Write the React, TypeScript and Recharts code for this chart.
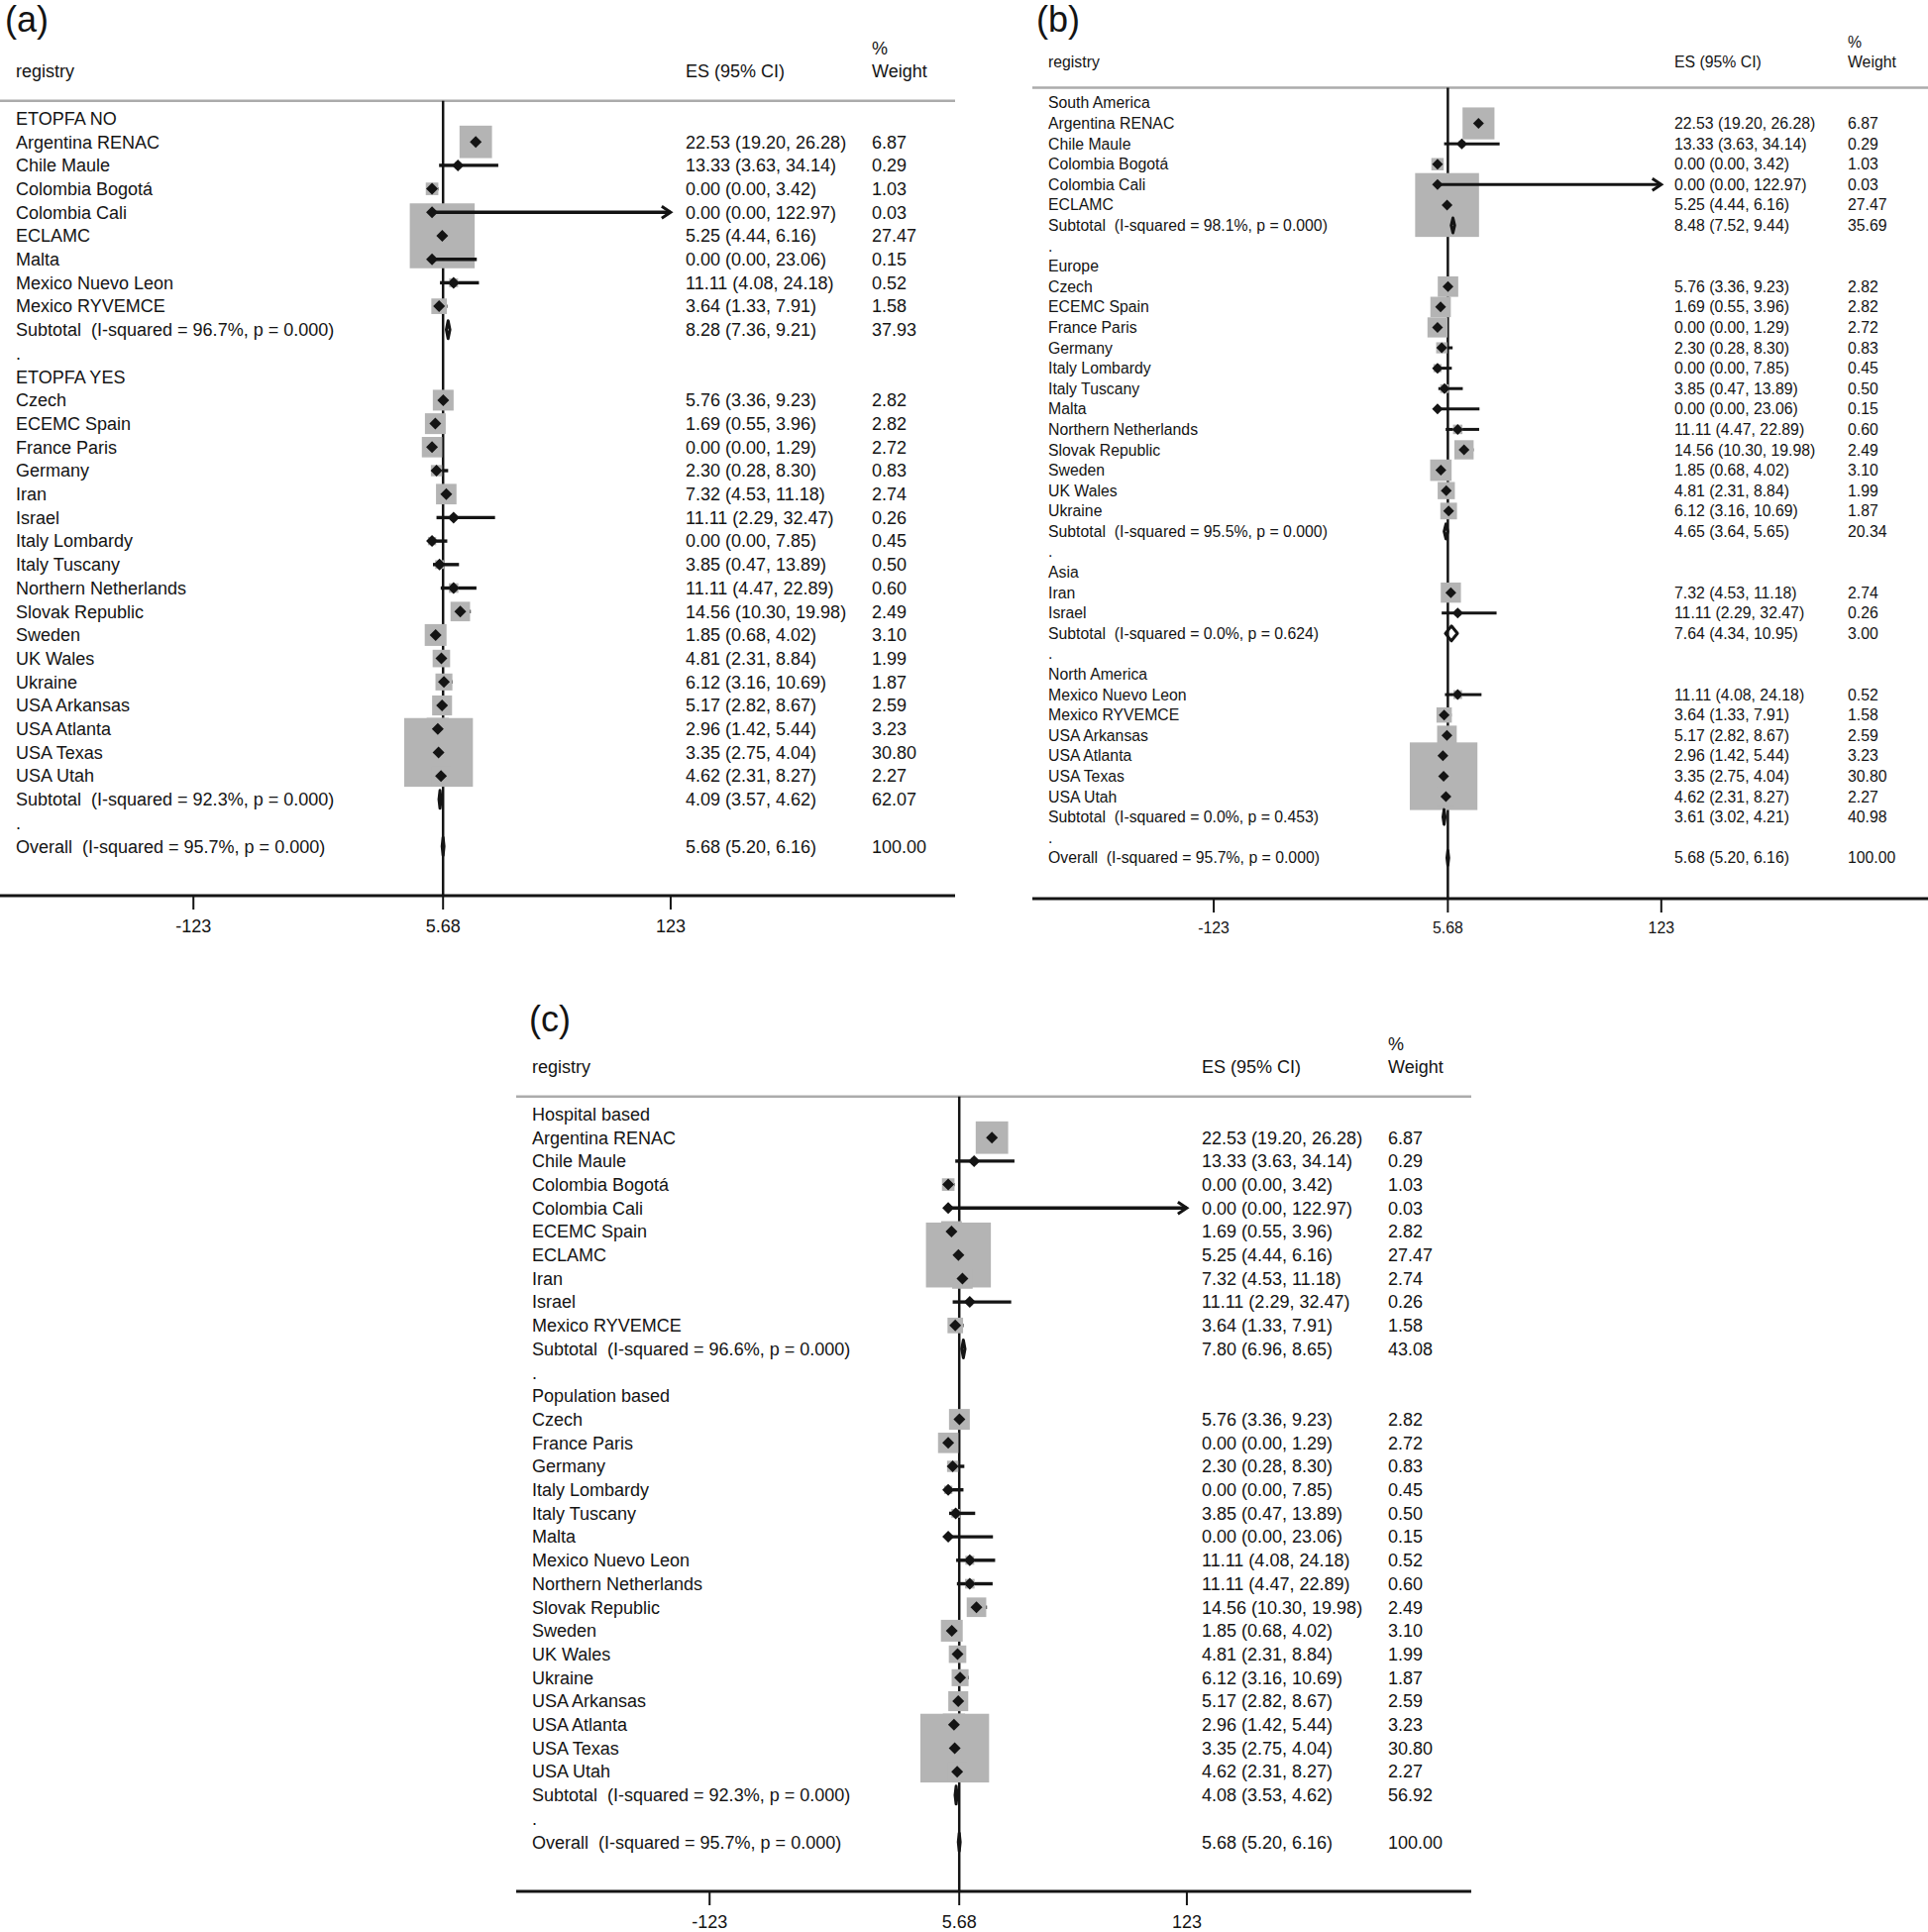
import React from 'react';
import { ReferenceLine, Scatter, ScatterChart, XAxis, YAxis } from 'recharts';

// [label, ES, lower, upper, % weight] – headings and "." rows carry only a label
type Entry = [string, number?, number?, number?, number?];

const rowsA: Entry[] = [
  ['ETOPFA NO'],
  ['Argentina RENAC', 22.53, 19.2, 26.28, 6.87],
  ['Chile Maule', 13.33, 3.63, 34.14, 0.29],
  ['Colombia Bogotá', 0.0, 0.0, 3.42, 1.03],
  ['Colombia Cali', 0.0, 0.0, 122.97, 0.03],
  ['ECLAMC', 5.25, 4.44, 6.16, 27.47],
  ['Malta', 0.0, 0.0, 23.06, 0.15],
  ['Mexico Nuevo Leon', 11.11, 4.08, 24.18, 0.52],
  ['Mexico RYVEMCE', 3.64, 1.33, 7.91, 1.58],
  ['Subtotal  (I-squared = 96.7%, p = 0.000)', 8.28, 7.36, 9.21, 37.93],
  ['.'],
  ['ETOPFA YES'],
  ['Czech', 5.76, 3.36, 9.23, 2.82],
  ['ECEMC Spain', 1.69, 0.55, 3.96, 2.82],
  ['France Paris', 0.0, 0.0, 1.29, 2.72],
  ['Germany', 2.3, 0.28, 8.3, 0.83],
  ['Iran', 7.32, 4.53, 11.18, 2.74],
  ['Israel', 11.11, 2.29, 32.47, 0.26],
  ['Italy Lombardy', 0.0, 0.0, 7.85, 0.45],
  ['Italy Tuscany', 3.85, 0.47, 13.89, 0.5],
  ['Northern Netherlands', 11.11, 4.47, 22.89, 0.6],
  ['Slovak Republic', 14.56, 10.3, 19.98, 2.49],
  ['Sweden', 1.85, 0.68, 4.02, 3.1],
  ['UK Wales', 4.81, 2.31, 8.84, 1.99],
  ['Ukraine', 6.12, 3.16, 10.69, 1.87],
  ['USA Arkansas', 5.17, 2.82, 8.67, 2.59],
  ['USA Atlanta', 2.96, 1.42, 5.44, 3.23],
  ['USA Texas', 3.35, 2.75, 4.04, 30.8],
  ['USA Utah', 4.62, 2.31, 8.27, 2.27],
  ['Subtotal  (I-squared = 92.3%, p = 0.000)', 4.09, 3.57, 4.62, 62.07],
  ['.'],
  ['Overall  (I-squared = 95.7%, p = 0.000)', 5.68, 5.2, 6.16, 100.0],
];

const rowsB: Entry[] = [
  ['South America'],
  ['Argentina RENAC', 22.53, 19.2, 26.28, 6.87],
  ['Chile Maule', 13.33, 3.63, 34.14, 0.29],
  ['Colombia Bogotá', 0.0, 0.0, 3.42, 1.03],
  ['Colombia Cali', 0.0, 0.0, 122.97, 0.03],
  ['ECLAMC', 5.25, 4.44, 6.16, 27.47],
  ['Subtotal  (I-squared = 98.1%, p = 0.000)', 8.48, 7.52, 9.44, 35.69],
  ['.'],
  ['Europe'],
  ['Czech', 5.76, 3.36, 9.23, 2.82],
  ['ECEMC Spain', 1.69, 0.55, 3.96, 2.82],
  ['France Paris', 0.0, 0.0, 1.29, 2.72],
  ['Germany', 2.3, 0.28, 8.3, 0.83],
  ['Italy Lombardy', 0.0, 0.0, 7.85, 0.45],
  ['Italy Tuscany', 3.85, 0.47, 13.89, 0.5],
  ['Malta', 0.0, 0.0, 23.06, 0.15],
  ['Northern Netherlands', 11.11, 4.47, 22.89, 0.6],
  ['Slovak Republic', 14.56, 10.3, 19.98, 2.49],
  ['Sweden', 1.85, 0.68, 4.02, 3.1],
  ['UK Wales', 4.81, 2.31, 8.84, 1.99],
  ['Ukraine', 6.12, 3.16, 10.69, 1.87],
  ['Subtotal  (I-squared = 95.5%, p = 0.000)', 4.65, 3.64, 5.65, 20.34],
  ['.'],
  ['Asia'],
  ['Iran', 7.32, 4.53, 11.18, 2.74],
  ['Israel', 11.11, 2.29, 32.47, 0.26],
  ['Subtotal  (I-squared = 0.0%, p = 0.624)', 7.64, 4.34, 10.95, 3.0],
  ['.'],
  ['North America'],
  ['Mexico Nuevo Leon', 11.11, 4.08, 24.18, 0.52],
  ['Mexico RYVEMCE', 3.64, 1.33, 7.91, 1.58],
  ['USA Arkansas', 5.17, 2.82, 8.67, 2.59],
  ['USA Atlanta', 2.96, 1.42, 5.44, 3.23],
  ['USA Texas', 3.35, 2.75, 4.04, 30.8],
  ['USA Utah', 4.62, 2.31, 8.27, 2.27],
  ['Subtotal  (I-squared = 0.0%, p = 0.453)', 3.61, 3.02, 4.21, 40.98],
  ['.'],
  ['Overall  (I-squared = 95.7%, p = 0.000)', 5.68, 5.2, 6.16, 100.0],
];

const rowsC: Entry[] = [
  ['Hospital based'],
  ['Argentina RENAC', 22.53, 19.2, 26.28, 6.87],
  ['Chile Maule', 13.33, 3.63, 34.14, 0.29],
  ['Colombia Bogotá', 0.0, 0.0, 3.42, 1.03],
  ['Colombia Cali', 0.0, 0.0, 122.97, 0.03],
  ['ECEMC Spain', 1.69, 0.55, 3.96, 2.82],
  ['ECLAMC', 5.25, 4.44, 6.16, 27.47],
  ['Iran', 7.32, 4.53, 11.18, 2.74],
  ['Israel', 11.11, 2.29, 32.47, 0.26],
  ['Mexico RYVEMCE', 3.64, 1.33, 7.91, 1.58],
  ['Subtotal  (I-squared = 96.6%, p = 0.000)', 7.8, 6.96, 8.65, 43.08],
  ['.'],
  ['Population based'],
  ['Czech', 5.76, 3.36, 9.23, 2.82],
  ['France Paris', 0.0, 0.0, 1.29, 2.72],
  ['Germany', 2.3, 0.28, 8.3, 0.83],
  ['Italy Lombardy', 0.0, 0.0, 7.85, 0.45],
  ['Italy Tuscany', 3.85, 0.47, 13.89, 0.5],
  ['Malta', 0.0, 0.0, 23.06, 0.15],
  ['Mexico Nuevo Leon', 11.11, 4.08, 24.18, 0.52],
  ['Northern Netherlands', 11.11, 4.47, 22.89, 0.6],
  ['Slovak Republic', 14.56, 10.3, 19.98, 2.49],
  ['Sweden', 1.85, 0.68, 4.02, 3.1],
  ['UK Wales', 4.81, 2.31, 8.84, 1.99],
  ['Ukraine', 6.12, 3.16, 10.69, 1.87],
  ['USA Arkansas', 5.17, 2.82, 8.67, 2.59],
  ['USA Atlanta', 2.96, 1.42, 5.44, 3.23],
  ['USA Texas', 3.35, 2.75, 4.04, 30.8],
  ['USA Utah', 4.62, 2.31, 8.27, 2.27],
  ['Subtotal  (I-squared = 92.3%, p = 0.000)', 4.08, 3.53, 4.62, 56.92],
  ['.'],
  ['Overall  (I-squared = 95.7%, p = 0.000)', 5.68, 5.2, 6.16, 100.0],
];

const X_DOMAIN = [-222.7, 269.6];
const X_TICKS = [-123, 5.68, 123];
const HEAD_NAME = 'registry';
const HEAD_ES = 'ES (95% CI)';
const HEAD_PCT = '%';
const HEAD_WEIGHT = 'Weight';

const FONT = '"Liberation Sans", Arial, Helvetica, sans-serif';
const INK = '#141414';
const BOX = '#b4b4b4';
const RULE = '#ababab';
const AXIS_H = 50;
const HEAD_ROW = -2;
const PCT_ROW = -2.97;
const RULE_ROW = -0.75;

// tagY is the baseline of the panel letter, page-relative to the panel top
const panels = [
  { tag: '(a)', rows: rowsA, left: 0, top: 1, width: 964, plotH: 903, yMax: 33.1, font: 18,
    nameX: 16, esX: 692, wX: 880, boxK: 12.5, dot: 6, subH: 9, ci: 3.4, tagX: 5, tagY: 32 },
  { tag: '(b)', rows: rowsB, left: 1042, top: 1, width: 904, plotH: 906, yMax: 39, font: 15.8,
    nameX: 16, esX: 648, wX: 823, boxK: 12.3, dot: 5.5, subH: 7.5, ci: 3, tagX: 4, tagY: 32 },
  { tag: '(c)', rows: rowsC, left: 521, top: 1006, width: 964, plotH: 903, yMax: 33.1, font: 18,
    nameX: 16, esX: 692, wX: 880, boxK: 12.5, dot: 6, subH: 9, ci: 3.4, tagX: 13, tagY: 36 },
];

const isPooled = (label: string) => label.startsWith('Subtotal') || label.startsWith('Overall');

function buildRows(rows: Entry[]) {
  return rows.map(([label, es, lo, hi, w], i) => ({
    x: 0,
    y: i,
    label,
    es,
    lo,
    hi,
    w,
    kind: es == null ? 'text' : isPooled(label) ? 'pooled' : 'study',
  }));
}

function ForestPanel({ cfg }: { cfg: any }) {
  const data = buildRows(cfg.rows);
  const studies = data.filter((d) => d.kind === 'study').map((d) => ({ ...d, x: d.es }));
  const pooled = data.filter((d) => d.kind === 'pooled');
  const overall = pooled[pooled.length - 1];
  const textRows = [...data, { x: 0, y: HEAD_ROW, kind: 'head' }, { x: 0, y: PCT_ROW, kind: 'pct' }];
  const txt = { fontSize: cfg.font, fontFamily: FONT, fill: INK, dy: '0.35em', style: { whiteSpace: 'pre' as const } };

  const boxShape = (p: any) => {
    const s = cfg.boxK * Math.sqrt(p.payload.w);
    return <rect x={p.cx - s / 2} y={p.cy - s / 2} width={s} height={s} fill={BOX} />;
  };

  const dotShape = (p: any) => {
    const h = cfg.dot;
    return (
      <polygon
        points={`${p.cx - h},${p.cy} ${p.cx},${p.cy - h} ${p.cx + h},${p.cy} ${p.cx},${p.cy + h}`}
        fill={INK}
      />
    );
  };

  // CI line, hidden where it runs inside the study's own box
  const ciShape = (p: any, s: any) => {
    const { x1, x2, y1 } = p;
    const e = s.hi > s.lo ? x1 + ((s.es - s.lo) / (s.hi - s.lo)) * (x2 - x1) : x1;
    const half = (cfg.boxK * Math.sqrt(s.w)) / 2;
    const arrow = s.hi > 100;
    return (
      <g stroke={INK} strokeWidth={cfg.ci} fill="none">
        {e - half > x1 && <line x1={x1} y1={y1} x2={e - half} y2={y1} />}
        {e + half < x2 && <line x1={e + half} y1={y1} x2={x2} y2={y1} />}
        {arrow && (
          <polyline points={`${x2 - 9},${y1 - 6} ${x2},${y1} ${x2 - 9},${y1 + 6}`} strokeWidth={3} />
        )}
      </g>
    );
  };

  const pooledShape = (p: any, s: any) => {
    const { x1, x2, y1 } = p;
    const e = x1 + ((s.es - s.lo) / (s.hi - s.lo)) * (x2 - x1);
    const h = cfg.subH;
    return (
      <polygon
        points={`${x1},${y1} ${e},${y1 - h} ${x2},${y1} ${e},${y1 + h}`}
        fill="none"
        stroke={INK}
        strokeWidth={3}
        strokeLinejoin="round"
      />
    );
  };

  const textShape = (p: any) => {
    const d = p.payload;
    const cy = p.cy;
    if (d.kind === 'pct') return <text x={cfg.wX} y={cy} {...txt}>{HEAD_PCT}</text>;
    if (d.kind === 'head') {
      return (
        <g>
          <text x={cfg.nameX} y={cy} {...txt}>{HEAD_NAME}</text>
          <text x={cfg.esX} y={cy} {...txt}>{HEAD_ES}</text>
          <text x={cfg.wX} y={cy} {...txt}>{HEAD_WEIGHT}</text>
        </g>
      );
    }
    return (
      <g>
        <text x={cfg.nameX} y={cy} {...txt}>{d.label}</text>
        {d.es != null && (
          <text x={cfg.esX} y={cy} {...txt}>
            {`${d.es.toFixed(2)} (${d.lo.toFixed(2)}, ${d.hi.toFixed(2)})`}
          </text>
        )}
        {d.w != null && <text x={cfg.wX} y={cy} {...txt}>{d.w.toFixed(2)}</text>}
      </g>
    );
  };

  return (
    <>
      <svg
        style={{ position: 'absolute', left: cfg.left + cfg.tagX, top: cfg.top - 1, overflow: 'visible' }}
        width={80}
        height={50}
      >
        <text x={0} y={cfg.tagY} fontSize={36} fontFamily={FONT} fill={INK}>{cfg.tag}</text>
      </svg>
      <div style={{ position: 'absolute', left: cfg.left, top: cfg.top }}>
        <ScatterChart width={cfg.width} height={cfg.plotH + AXIS_H} margin={{ top: 0, right: 0, bottom: 0, left: 0 }}>
          <XAxis
            type="number"
            dataKey="x"
            domain={X_DOMAIN}
            ticks={X_TICKS}
            interval={0}
            allowDataOverflow
            height={AXIS_H}
            tickSize={14}
            tickMargin={10}
            axisLine={{ stroke: INK, strokeWidth: 3 }}
            tickLine={{ stroke: INK, strokeWidth: 2 }}
            tick={{ fontSize: cfg.font, fontFamily: FONT, fill: INK }}
          />
          <YAxis type="number" dataKey="y" domain={[-5, cfg.yMax]} reversed hide allowDataOverflow />
          <ReferenceLine y={RULE_ROW} stroke={RULE} strokeWidth={2.5} zIndex={540} />
          <ReferenceLine
            segment={[{ x: overall.es, y: RULE_ROW }, { x: overall.es, y: cfg.yMax }]}
            stroke={INK}
            strokeWidth={2.5}
            zIndex={550}
          />
          <Scatter data={studies} shape={boxShape} isAnimationActive={false} zIndex={600} />
          {studies.map((s) => (
            <ReferenceLine
              key={`ci-${s.y}`}
              segment={[{ x: s.lo, y: s.y }, { x: s.hi, y: s.y }]}
              shape={(p: any) => ciShape(p, s)}
              zIndex={650}
            />
          ))}
          <Scatter data={studies} shape={dotShape} isAnimationActive={false} zIndex={700} />
          {pooled.map((s) => (
            <ReferenceLine
              key={`pool-${s.y}`}
              segment={[{ x: s.lo, y: s.y }, { x: s.hi, y: s.y }]}
              shape={(p: any) => pooledShape(p, s)}
              zIndex={700}
            />
          ))}
          <Scatter data={textRows} shape={textShape} isAnimationActive={false} zIndex={720} />
        </ScatterChart>
      </div>
    </>
  );
}

export default function App() {
  return (
    <div
      style={{
        position: 'absolute',
        left: 0,
        top: 0,
        width: 1946,
        height: 1950,
        background: '#ffffff',
        overflow: 'hidden',
      }}
    >
      {panels.map((cfg) => (
        <ForestPanel key={cfg.tag} cfg={cfg} />
      ))}
    </div>
  );
}
